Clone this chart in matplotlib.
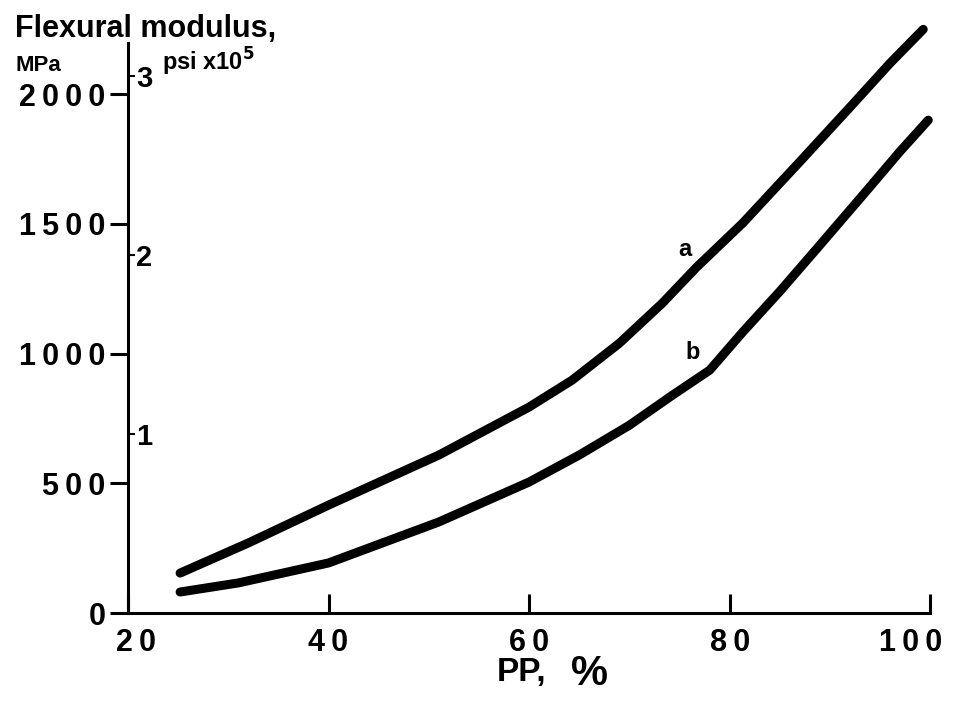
import matplotlib
matplotlib.use('Agg')
import matplotlib.pyplot as plt
from matplotlib.transforms import ScaledTranslation

# Data (PP %, flexural modulus MPa)
pp_a = [25.2, 32, 40, 51, 60, 64.3, 69, 73.3, 76.7, 81.3, 85, 87, 92, 96, 99.3]
mod_a = [154, 270, 416, 609, 794, 898, 1040, 1195, 1333, 1503, 1657, 1740, 1950, 2120, 2250]
pp_b = [25.2, 31, 40, 51, 60, 65, 70, 74.3, 78, 81.3, 85, 88.7, 93.7, 97, 99.8]
mod_b = [81, 116, 193, 351, 505, 609, 724, 840, 936, 1083, 1240, 1405, 1630, 1780, 1900]

x_ticks = [20, 40, 60, 80, 100]
y_ticks = [0, 500, 1000, 1500, 2000]
psi_ticks = [1, 2, 3]
MPA_PER_1E5_PSI = 689.476

plt.rcParams['font.family'] = ['Liberation Sans', 'DejaVu Sans']
plt.rcParams['font.weight'] = 'bold'

fig = plt.figure(figsize=(9.62, 7.01), dpi=100)
ax = fig.add_axes([0.133, 0.1255, 0.834, 0.813])

ax.plot(pp_a, mod_a, color='black', lw=6.5, solid_capstyle='round', clip_on=False)
ax.plot(pp_b, mod_b, color='black', lw=6.5, solid_capstyle='round', clip_on=False)

ax.set_xlim(20, 100)
ax.set_ylim(0, 2197)
for s in ['top', 'right']:
    ax.spines[s].set_visible(False)
for s in ['left', 'bottom']:
    ax.spines[s].set_linewidth(2.2)

ax.set_xticks(x_ticks)
ax.set_xticklabels(['\u2009'.join(str(v)) for v in x_ticks])
ax.set_yticks(y_ticks)
ax.set_yticklabels(['\u2009'.join(str(v)) for v in y_ticks])
ax.tick_params(axis='x', direction='in', length=14, width=2.2, pad=11, labelsize=22)
ax.tick_params(axis='y', direction='out', length=13, width=2.2, pad=3, labelsize=22)

# first and last x labels sit a bit inward in the original
labs = ax.get_xticklabels()
labs[0].set_transform(labs[0].get_transform() + ScaledTranslation(0.08, 0, fig.dpi_scale_trans))
labs[-1].set_transform(labs[-1].get_transform() + ScaledTranslation(-0.2, 0, fig.dpi_scale_trans))

# psi scale on the same spine
ax2 = ax.twinx()
ax2.set_ylim(0, 2197 / MPA_PER_1E5_PSI)
for s in ax2.spines.values():
    s.set_visible(False)
ax2.spines['right'].set_position(('axes', 0))
ax2.set_yticks(psi_ticks)
ax2.set_yticklabels([str(v) for v in psi_ticks])
ax2.tick_params(axis='y', direction='out', length=5, width=1.5, pad=1, labelsize=21)

ax.text(75.5, 1400, 'a', fontsize=17, ha='center', va='center')
ax.text(76.3, 1006, 'b', fontsize=17, ha='center', va='center')

fig.text(0.016, 0.958, 'Flexural modulus,', fontsize=22, ha='left', va='center')
fig.text(0.016, 0.907, 'MPa', fontsize=16, ha='left', va='center')
fig.text(0.168, 0.912, r'psi x10$^{\mathbf{5}}$', fontsize=17, ha='left', va='center')

fig.text(0.542, 0.04, 'PP,', fontsize=24, ha='center', va='center')
fig.text(0.613, 0.038, '%', fontsize=30, ha='center', va='center')

fig.savefig('out.png', dpi=100)
